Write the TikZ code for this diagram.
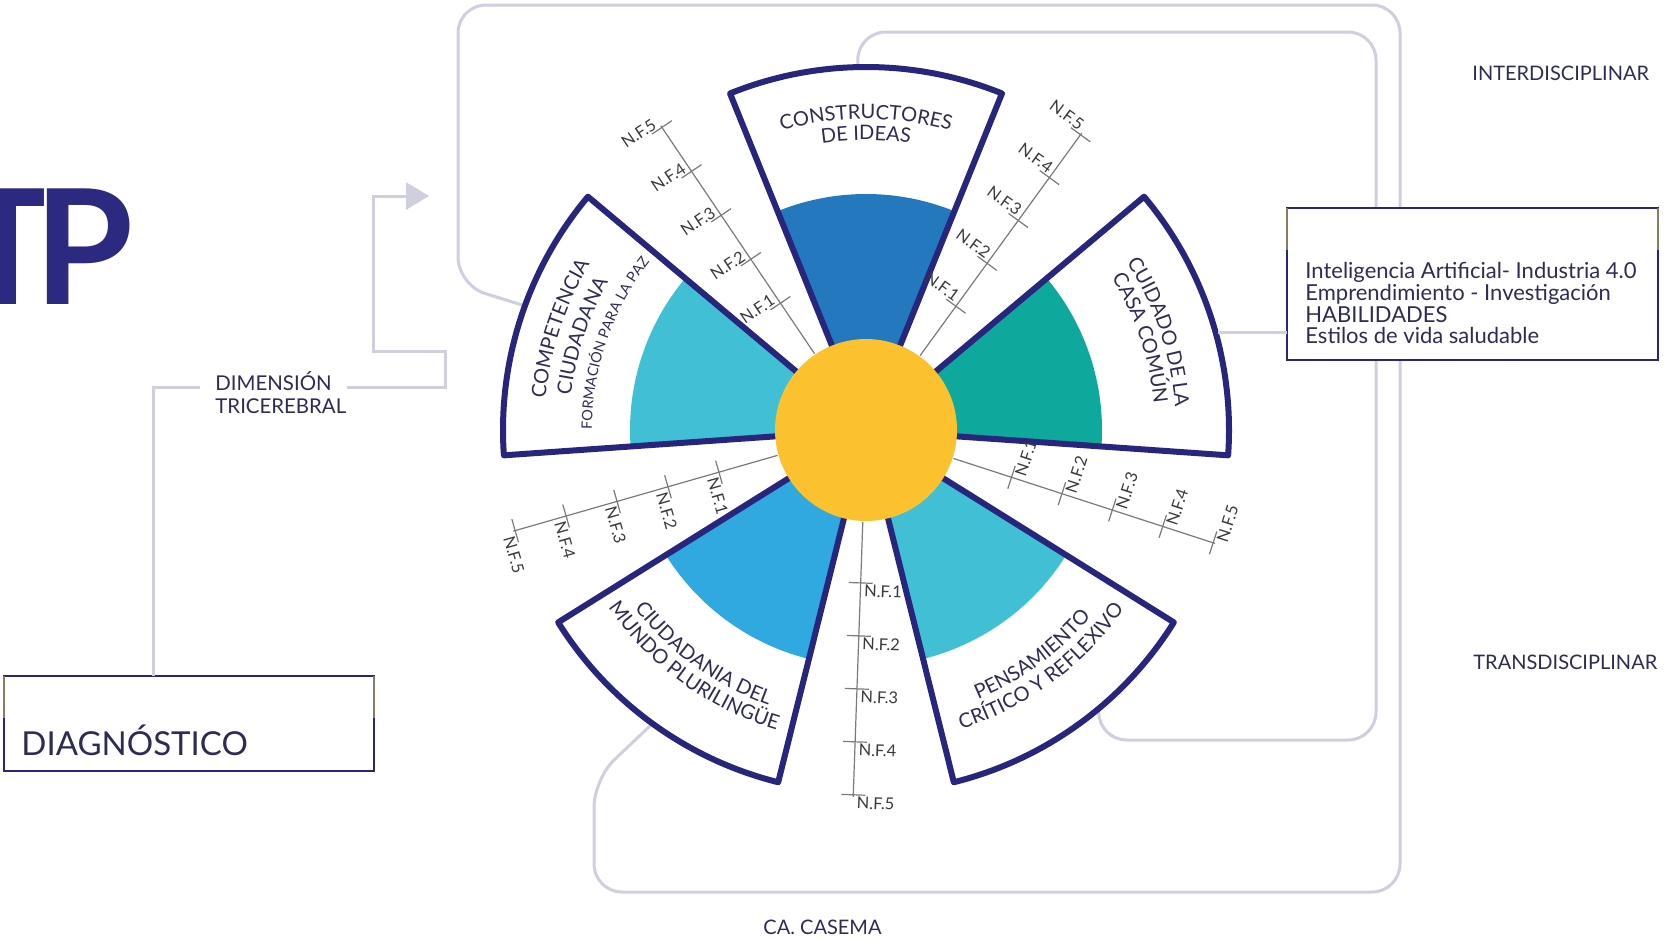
\documentclass[tikz,border=0pt]{standalone}
\usepackage{fontspec}
\setmainfont{Lato}
\usetikzlibrary{calc,decorations.text,arrows.meta}
\definecolor{navy}{HTML}{28257C}
\definecolor{tpnavy}{HTML}{2B2A80}
\definecolor{glinec}{HTML}{CFCFDF}
\definecolor{txtdark}{HTML}{2D2C55}
\definecolor{sunY}{HTML}{FBC12E}
\definecolor{cBlue}{HTML}{2378BE}
\definecolor{cTeal}{HTML}{0EA89D}
\definecolor{cCyan}{HTML}{41BFD5}
\definecolor{cSky}{HTML}{30A8E0}
\definecolor{tanedge}{HTML}{8C7B5C}
\definecolor{scalegray}{HTML}{7A7A7A}
\definecolor{nfgray}{HTML}{3A3A3A}
\newcommand{\arcline}[5]{%
  \pgfmathsetmacro\tAngS{#1+40*#3}%
  \pgfmathsetmacro\tAngE{#1-40*#3}%
  \path[decorate, decoration={text along path, text align=center, text color=txtdark,
     text={|\fontsize{#4}{#4}\selectfont|#5}}]
     ($(C)+(\tAngS:#2)$) arc[start angle=\tAngS, end angle=\tAngE, radius=#2];
}
\begin{document}
\begin{tikzpicture}[x=0.5pt,y=0.5pt,
  gline/.style={draw=glinec, line width=1.5pt},
  frame/.style={gline, rounded corners=14pt},
  petaledge/.style={draw=navy, line width=3pt, line join=round},
  scaleln/.style={draw=scalegray, line width=0.6pt},
  nflab/.style={font=\fontsize{8.2}{9}\selectfont, text=nfgray, inner sep=0pt},
  boxst/.style={draw=navy, line width=1.2pt, fill=white, inner sep=0pt, outer sep=0pt},
  lbl/.style={inner sep=0pt, text=txtdark},
  tpst/.style={inner sep=0pt, anchor=south east, text=tpnavy, font=\fontsize{80}{80}\selectfont\bfseries},
]
\useasboundingbox (0,0) rectangle (1670,-939);
\fill[white] (0,0) rectangle (1670,-939);
\coordinate (C) at (866,-430);

% frame anchor points on petal arcs
\coordinate (compA) at ($(C)+(160:362)$);
\coordinate (ciudA) at ($(C)+(234:362)$);
\coordinate (consA) at ($(C)+(91.3:362)$);
\coordinate (pensA) at ($(C)+(-50:362)$);
\coordinate (cuidA) at ($(C)+(15.5:365)$);

% outer and inner frames
\draw[frame] (compA) -- (458,-285) -- (458,-5) -- (1400,-5) -- (1400,-892) -- (594,-892) -- (594,-779) -- (ciudA);
\draw[frame] (consA) -- (consA |- 0,-32) -- (1376,-32) -- (1376,-740) -- (pensA |- 0,-740) -- (pensA);

% petals
\foreach \a/\col in {90/cBlue,18/cTeal,-54/cCyan,234/cSky,162/cCyan}{
  \pgfmathsetmacro\aL{\a+22}
  \pgfmathsetmacro\aR{\a-22}
  \fill[white] (C) -- ++(\aL:363) arc[start angle=\aL, end angle=\aR, radius=363] -- cycle;
  \fill[\col] (C) -- ++(\aL:236) arc[start angle=\aL, end angle=\aR, radius=236] -- cycle;
  \draw[petaledge] (C) -- ++(\aL:363) arc[start angle=\aL, end angle=\aR, radius=363] -- cycle;
}

% scales
\foreach \sa/\st [count=\sidx] in {124/1,54/1,-18/0,-92/0,196/0}{
  \pgfmathsetmacro\angP{\sa+90}
  \pgfmathsetmacro\angM{\sa-90}
  \draw[scaleln] ($(C)+(\sa:92)$) -- ($(C)+(\sa:367)$);
  \foreach \k in {1,...,5}{
    \pgfmathsetmacro\rk{153+53*(\k-1)}
    \draw[scaleln] ($(C)+(\sa:\rk)+(\angP:12)$) -- ($(C)+(\sa:\rk)+(\angM:12)$);
    \ifnum\st=1
      \node[nflab, rotate=\angM, anchor=south east] (nf\sidx-\k) at ($(C)+(\sa:\rk)+(\angP:3.5)+(\sa:1.5)$) {N.F.\k};
    \else
      \node[nflab, rotate=\angP, anchor=north west] (nf\sidx-\k) at ($(C)+(\sa:\rk)+(\angP:3.5)+(\sa:1.5)$) {N.F.\k};
    \fi
  }
}

% centre
\fill[sunY] (C) circle[radius=91];

% petal texts
\arcline{90}{311}{1}{10}{CONSTRUCTORES}
\arcline{90}{290}{1}{10}{DE IDEAS}
\arcline{18.5}{310}{1}{10}{CUIDADO DE LA}
\arcline{18.5}{289}{1}{10}{CASA COMÚN}
\arcline{-53.5}{292}{-1}{10}{PENSAMIENTO}
\arcline{-53.5}{314}{-1}{10}{CRÍTICO Y REFLEXIVO}
\arcline{234}{292}{-1}{10}{CIUDADANIA DEL}
\arcline{234}{313}{-1}{10}{MUNDO PLURILINGÜE}
\arcline{161.7}{322}{1}{10}{COMPETENCIA}
\arcline{161.7}{297}{1}{10}{CIUDADANA}
\arcline{161}{274}{1}{7.2}{FORMACIÓN PARA LA PAZ}

% left part
\node[tpst, xscale=0.8] (tpT) at (47,-305) {T};
\node[tpst] (tpP) at (134,-305) {P};
\node[lbl, font=\fontsize{10.2}{11.7}\selectfont, align=left, anchor=north west] (dim) at (215,-371) {DIMENSIÓN\\TRICEREBRAL};
\node[boxst, minimum width=185pt, minimum height=47.5pt] (diag) at (189,-723.5) {};
\node[lbl, font=\fontsize{16.5}{17}\selectfont, anchor=base west] (diagt) at (21,-755) {DIAGNÓSTICO};
\draw[tanedge, line width=1.2pt] (diag.north west) -- ++(0,-42);
\draw[tanedge, line width=1.2pt] (diag.north east) -- ++(0,-42);

\coordinate (dimy) at (0,-387);
\coordinate (dlx) at (153,0);
\coordinate (dimL) at ($(dim.west)+(-15,0)$);
\coordinate (arrowtip) at (429,-196);
\draw[gline] (dimL |- dimy) -| (diag.north -| dlx);
\draw[gline, -{Triangle[length=11.5pt,width=13.5pt]}] (dim.east |- dimy) -- (445,-387) -- (445,-351) -- (373,-351) -- (373,-196) -- (arrowtip);

% right part
\node[boxst, minimum width=185.5pt, minimum height=76pt] (hab) at (1472.5,-284) {};
\node[lbl, font=\fontsize{11}{10.85}\selectfont, align=left, anchor=north west] (habt) at (1305,-262)
  {Inteligencia Artificial- Industria 4.0\\Emprendimiento - Investigación\\HABILIDADES\\Estilos de vida saludable};
\draw[tanedge, line width=1.2pt] (hab.north west) -- ++(0,-42);
\draw[tanedge, line width=1.2pt] (hab.north east) -- ++(0,-42);
\draw[gline] (cuidA) -- (cuidA -| hab.west);

\node[lbl, font=\fontsize{10}{11}\selectfont, anchor=base west] (inter) at (1472,-80) {INTERDISCIPLINAR};
\node[lbl, font=\fontsize{10}{11}\selectfont, anchor=base west] (trans) at (1473,-669) {TRANSDISCIPLINAR};
\node[lbl, font=\fontsize{10}{11}\selectfont, anchor=base west] (casema) at (763,-934) {CA.\ CASEMA};
\end{tikzpicture}
\end{document}
